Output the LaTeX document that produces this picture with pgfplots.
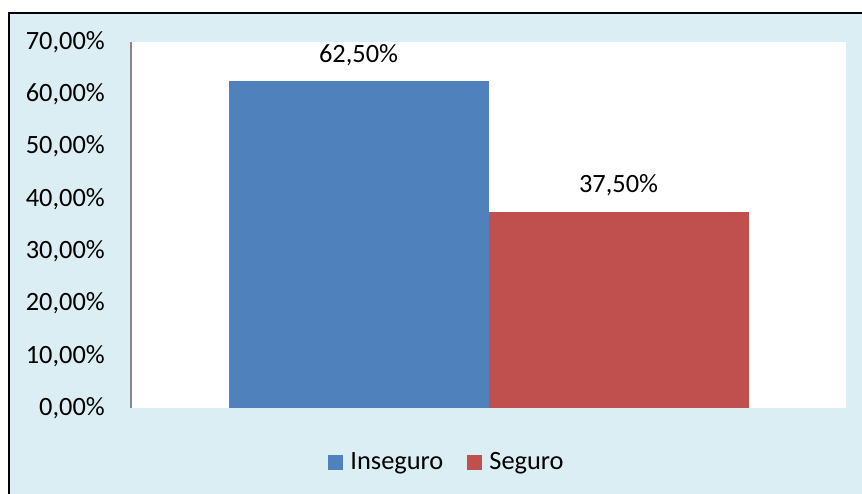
\documentclass[border=0pt]{standalone}
\usepackage{fontspec}
\setmainfont{Carlito}
\usepackage{pgfplots}
\pgfplotsset{compat=1.18}
\definecolor{bg}{HTML}{DBEEF3}
\definecolor{cblue}{HTML}{4F81BD}
\definecolor{cred}{HTML}{C0504D}
\definecolor{axgray}{HTML}{868686}
\begin{document}
\begin{tikzpicture}[font=\fontsize{26.5}{30}\selectfont]
\useasboundingbox (0bp,0bp) rectangle (862bp,494bp);
\fill[white] (0bp,0bp) rectangle (862bp,494bp);
\fill[bg] (9bp,-10bp) rectangle (880bp,481bp);
\draw[black, line width=1.4bp] (9bp,-10bp) -- (9bp,481bp) -- (880bp,481bp);
\begin{axis}[
  at={(131bp,86bp)}, anchor=south west,
  scale only axis, width=715bp, height=366bp,
  xmin=-1.375, xmax=1.375, ymin=0, ymax=70,
  axis y line*=left, axis x line=none,
  y axis line style={axgray, line width=1.2bp},
  axis background/.style={fill=white},
  ytick={0,10,20,30,40,50,60,70}, xtick=\empty,
  major tick length=0pt,
  /pgf/number format/assume math mode=true,
  yticklabel={\pgfmathprintnumber[fixed,fixed zerofill,precision=2,use comma]{\tick}\%},
  yticklabel style={inner sep=0pt, xshift=-26bp, font=\fontsize{26.5}{30}\selectfont},
  nodes near coords={\pgfmathprintnumber[fixed,fixed zerofill,precision=2,use comma]{\pgfplotspointmeta}\%},
  every node near coord/.style={anchor=base, yshift=19bp, inner sep=0pt, font=\fontsize{26.5}{30}\selectfont, black},
  legend style={at={(0.442,-0.148)}, anchor=center, draw=none, fill=none,
    legend columns=2, font=\fontsize{26.5}{30}\selectfont,
    /tikz/every odd column/.append style={column sep=5bp},
    /tikz/every even column/.append style={column sep=22bp}},
  legend image code/.code={\fill[#1] (0bp,-7.5bp) rectangle (15bp,7.5bp);},
  clip=false,
]
\addplot[ybar, fill=cblue, draw=none, bar width=1, bar shift=0] coordinates {(-0.5,62.5)};
\addlegendentry{Inseguro}
\addplot[ybar, fill=cred, draw=none, bar width=1, bar shift=0] coordinates {(0.5,37.5)};
\addlegendentry{Seguro}
\end{axis}
\end{tikzpicture}
\end{document}
